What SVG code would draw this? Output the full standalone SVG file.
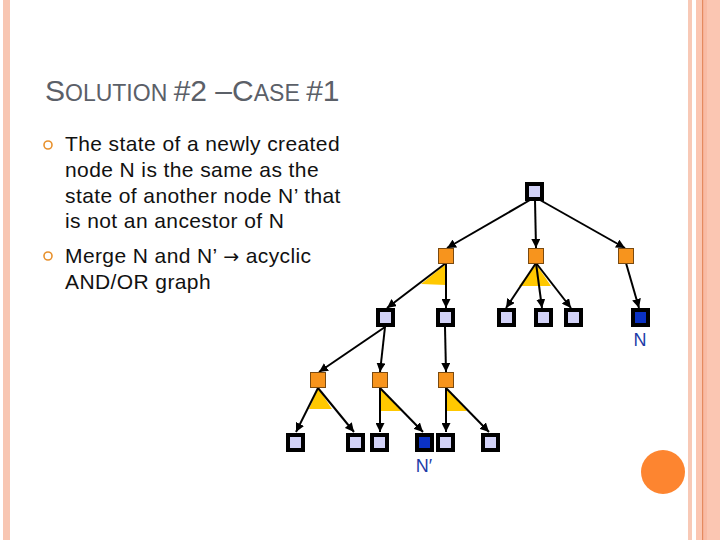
<svg xmlns="http://www.w3.org/2000/svg" width="720" height="540" viewBox="0 0 720 540">
<defs>
<style>
.t{font-family:"Liberation Sans",Arial,sans-serif;}
.title{fill:#5b6068;}
.body{fill:#111;font-size:21px;letter-spacing:0.4px;}
.lbl{fill:#1c3ca8;font-size:18px;}
.edge{stroke:#000;stroke-width:2;fill:none;marker-end:url(#ah);}
.or{fill:#f7941d;stroke:#7a4a10;stroke-width:1;}
.st{fill:#d2d2f7;stroke:#000;stroke-width:4;}
.stN{fill:#0b32c4;stroke:#000;stroke-width:4;}
.and{fill:#ffc800;}
</style>
<marker id="ah" viewBox="0 0 10 10" refX="10" refY="5" markerWidth="4.5" markerHeight="4.5" orient="auto" markerUnits="strokeWidth">
<path d="M0,0 L10,5 L0,10 z" fill="#000"/>
</marker>
</defs>
<rect width="720" height="540" fill="#fff"/>
<!-- borders -->
<rect x="3" y="0" width="7" height="540" fill="#f8c6b2"/>
<rect x="688" y="0" width="4" height="540" fill="#f8c9b6"/>
<rect x="696" y="0" width="24" height="540" fill="#fbc6b2"/>
<rect x="703" y="0" width="4" height="540" fill="#f9bba5"/>
<rect x="702" y="0" width="1.2" height="540" fill="#e58a60"/>
<circle cx="663" cy="472" r="22" fill="#fd8530"/>

<!-- title -->
<text class="t title" x="45" y="101" font-size="30"><tspan>S</tspan><tspan font-size="23">OLUTION </tspan><tspan>#2 –</tspan><tspan>C</tspan><tspan font-size="23">ASE </tspan><tspan>#1</tspan></text>

<!-- bullets -->
<g id="bullets">
<circle cx="48" cy="145" r="4" fill="none" stroke="#e8912d" stroke-width="1.6"/>
<circle cx="48" cy="256" r="4" fill="none" stroke="#e8912d" stroke-width="1.6"/>
<text class="t body" x="65"><tspan x="65" y="151">The state of a newly created</tspan><tspan x="65" y="177">node N is the same as the</tspan><tspan x="65" y="203">state of another node N’ that</tspan><tspan x="65" y="228">is not an ancestor of N</tspan><tspan x="65" y="263">Merge N and N’ <tspan font-family="DejaVu Sans, sans-serif" font-size="19">→</tspan> acyclic</tspan><tspan x="65" y="289">AND/OR graph</tspan></text>
</g>

<!-- AND arcs -->
<g id="and-arcs">
<polygon class="and" points="446,264 421,284 446,285"/>
<polygon class="and" points="536,264 519,286 551,286"/>
<polygon class="and" points="318,388 309,409 332,409"/>
<polygon class="and" points="380,388 380,411 401,411"/>
<polygon class="and" points="446,388 446,411 467,411"/>
</g>

<!-- connectors -->
<g id="connectors">
<line class="edge" x1="530" y1="200" x2="447" y2="248"/>
<line class="edge" x1="535" y1="200" x2="536" y2="248"/>
<line class="edge" x1="540" y1="200" x2="625" y2="248"/>
<line class="edge" x1="446" y1="263" x2="387" y2="308"/>
<line class="edge" x1="446" y1="263" x2="446" y2="308"/>
<line class="edge" x1="536" y1="263" x2="506" y2="308"/>
<line class="edge" x1="536" y1="263" x2="542" y2="308"/>
<line class="edge" x1="536" y1="263" x2="571" y2="308"/>
<line class="edge" x1="626" y1="263" x2="639" y2="308"/>
<line class="edge" x1="385" y1="327" x2="319" y2="372"/>
<line class="edge" x1="385" y1="327" x2="380" y2="372"/>
<line class="edge" x1="445" y1="327" x2="446" y2="372"/>
<line class="edge" x1="318" y1="388" x2="296" y2="432"/>
<line class="edge" x1="318" y1="388" x2="354" y2="432"/>
<line class="edge" x1="380" y1="388" x2="380" y2="432"/>
<line class="edge" x1="380" y1="388" x2="423" y2="432"/>
<line class="edge" x1="446" y1="388" x2="446" y2="432"/>
<line class="edge" x1="446" y1="388" x2="489" y2="432"/>
</g>

<!-- nodes -->
<g id="root"><rect class="st" x="527" y="184" width="15" height="15"/></g>
<g id="or1"><rect class="or" x="438.5" y="248.5" width="15" height="15"/></g>
<g id="or2"><rect class="or" x="528.5" y="248.5" width="15" height="15"/></g>
<g id="or3"><rect class="or" x="618.5" y="248.5" width="15" height="15"/></g>
<g id="s1"><rect class="st" x="378" y="310" width="15" height="15"/></g>
<g id="s2"><rect class="st" x="438" y="310" width="15" height="15"/></g>
<g id="s3"><rect class="st" x="499" y="310" width="15" height="15"/></g>
<g id="s4"><rect class="st" x="536" y="310" width="15" height="15"/></g>
<g id="s5"><rect class="st" x="566" y="310" width="15" height="15"/></g>
<g id="nodeN"><rect class="stN" x="633" y="310" width="15" height="15"/><text class="t lbl" x="640" y="346" text-anchor="middle">N</text></g>
<g id="or4"><rect class="or" x="310.5" y="372.5" width="15" height="15"/></g>
<g id="or5"><rect class="or" x="372.5" y="372.5" width="15" height="15"/></g>
<g id="or6"><rect class="or" x="438.5" y="372.5" width="15" height="15"/></g>
<g id="l1"><rect class="st" x="288" y="435" width="15" height="15"/></g>
<g id="l2"><rect class="st" x="348" y="435" width="15" height="15"/></g>
<g id="l3"><rect class="st" x="372" y="435" width="15" height="15"/></g>
<g id="nodeNp"><rect class="stN" x="417" y="435" width="15" height="15"/><text class="t lbl" x="424" y="472" text-anchor="middle">N′</text></g>
<g id="l4"><rect class="st" x="438" y="435" width="15" height="15"/></g>
<g id="l5"><rect class="st" x="483" y="435" width="15" height="15"/></g>
</svg>
